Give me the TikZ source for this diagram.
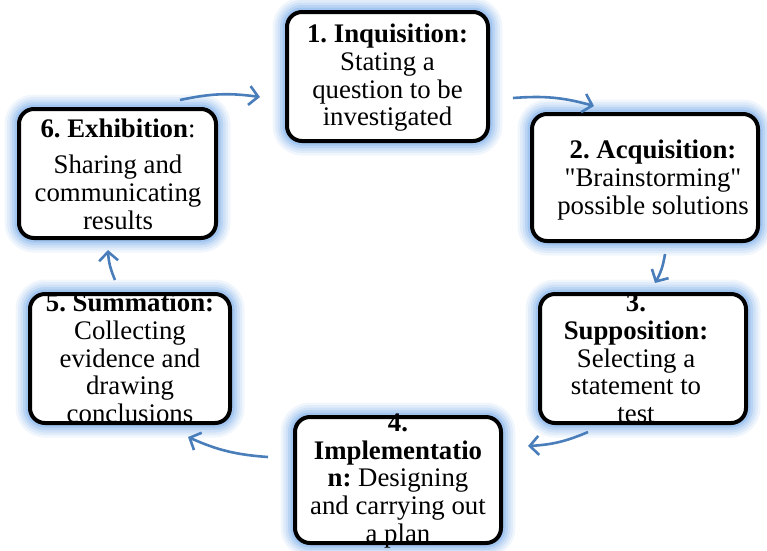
\documentclass[tikz,border=0pt]{standalone}
\usepackage{fontspec}
\setmainfont{Liberation Serif}[Ligatures=TeXOff]
\usepackage{xcolor}
\usepackage{tikz}
\usetikzlibrary{arrows.meta,positioning}
\definecolor{CGlow}{HTML}{8DB8EC}
\definecolor{CArrow}{HTML}{4A7EBB}
\frenchspacing

\begin{document}
\begin{tikzpicture}[
  x=1pt,y=-1pt,
  stage/.style={draw=black,line width=4pt,rounded corners=15pt,fill=white,
    inner sep=0pt,
    preaction={draw=CGlow,line width=29pt,opacity=0.12},
    preaction={draw=CGlow,line width=24pt,opacity=0.16},
    preaction={draw=CGlow,line width=19pt,opacity=0.22},
    preaction={draw=CGlow,line width=14pt,opacity=0.32},
    preaction={draw=CGlow,line width=9pt,opacity=0.5}},
  words/.style={align=center,inner sep=0pt,
    font=\fontsize{26.8}{27.7}\selectfont},
  a/.style={-{Straight Barb[length=9pt,width=19pt]},line width=2.6pt,
    color=CArrow,bend left=10}
]
  \useasboundingbox (0,0) rectangle (767,550);
  % the six stages
  \node[stage,minimum width=201pt,minimum height=129pt] (s1) at (387.5,76.5) {};
  \node[stage,minimum width=226pt,minimum height=127pt] (s2) at (645,177.5) {};
  \node[stage,minimum width=206pt,minimum height=129pt] (s3) at (643,358.5) {};
  \node[stage,minimum width=206pt,minimum height=126pt] (s4) at (398,480) {};
  \node[stage,minimum width=200pt,minimum height=129pt] (s5) at (130,358.5) {};
  \node[stage,minimum width=197pt,minimum height=129pt] (s6) at (117.5,173.5) {};

  \node[words] (t1) at (387.5,78) {\textbf{1. Inquisition:}\\Stating a\\question to be\\investigated};
  \node[words] (t2) at (653,180) {\textbf{2. Acquisition:}\\"Brainstorming"\\possible solutions};
  \node[words] (t3) at (636,358.5) {\textbf{3.}\\\textbf{Supposition:}\\Selecting a\\statement to\\test};
  \node[words] (t4) at (398,481) {\textbf{4.}\\\textbf{Implementatio}\\\textbf{n:} Designing\\and carrying out\\a plan};
  \node[words] (t5) at (130,358) {\textbf{5. Summation:}\\Collecting\\evidence and\\drawing\\conclusions};
  \node[words] (t6) at (118,174) {\textbf{6. Exhibition}:\\[9pt]Sharing and\\communicating\\results};

  % cycle arrows
  \draw[a] ([shift={(-38,-7)}]s6.north east) to ([shift={(-25,20.5)}]s1.west);
  \draw[a] ([shift={(23,21.5)}]s1.east) to ([shift={(64,-6)}]s2.north west);
  \draw[a] ([shift={(20,11)}]s2.south) to ([shift={(12,-9)}]s3.north);
  \draw[a] ([shift={(-55,7)}]s3.south) to ([shift={(25,-34)}]s4.east);
  \draw[a] ([shift={(-25,-23)}]s4.west) to ([shift={(58,12)}]s5.south);
  \draw[a] ([shift={(-15,-12)}]s5.north) to ([shift={(-9.5,10)}]s6.south);
\end{tikzpicture}
\end{document}
